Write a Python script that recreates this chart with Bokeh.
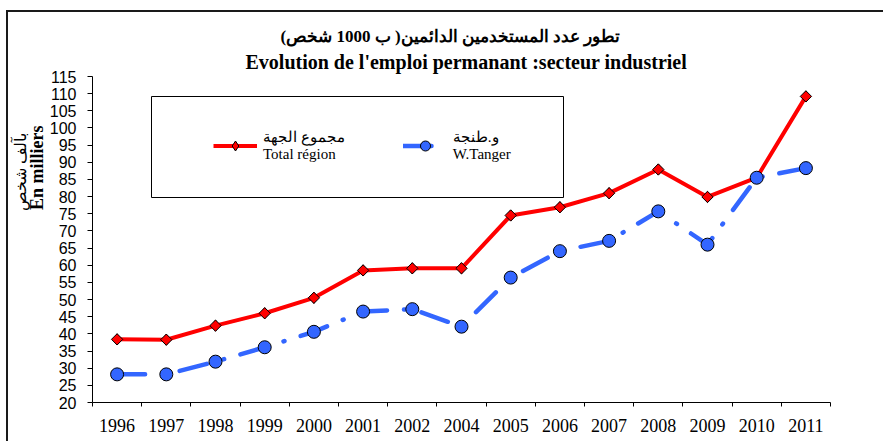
from bokeh.plotting import figure
from bokeh.models import (Range1d, FixedTicker, Legend, LegendItem, Title,
                          BoxAnnotation)
from bokeh.embed import file_html
from bokeh.resources import INLINE

# ---- data -------------------------------------------------------------
years = ["1996", "1997", "1998", "1999", "2000", "2001", "2002", "2004",
         "2005", "2006", "2007", "2008", "2009", "2010", "2011"]
total_region = [38.4, 38.3, 42.4, 46.0, 50.5, 58.5, 59.1, 59.1,
                74.5, 76.9, 81.0, 87.9, 79.9, 85.5, 109.2]
w_tanger = [28.2, 28.2, 31.9, 36.1, 40.6, 46.5, 47.2, 42.1,
            56.4, 64.1, 67.1, 75.7, 66.0, 85.5, 88.3]
y_ticks = list(range(20, 116, 5))

title_ar = "تطور عدد المستخدمين الدائمين( ب 1000 شخص)"
title_fr = "Evolution de l'emploi permanant :secteur industriel"
ylabel_ar = "بآلف شخص"
ylabel_fr = "En milliers"
label_total = "مجموع الجهة\nTotal région"
label_tanger = "و.طنجة\nW.Tanger"

xs = list(range(len(years)))

# ---- figure -----------------------------------------------------------
frame_css = {
    "background-image": "linear-gradient(#1a1a1a,#1a1a1a), linear-gradient(#1a1a1a,#1a1a1a)",
    "background-size": "2px 100%, 100% 2px",
    "background-position": "6px 10px, 6px 10px",
    "background-repeat": "no-repeat",
}
p = figure(width=883, height=441, title=None,
           x_range=Range1d(-0.5, len(years) - 0.5), y_range=Range1d(20, 115),
           output_backend="svg", toolbar_location=None,
           min_border_left=92, min_border_right=53,
           min_border_top=76, min_border_bottom=39,
           styles=frame_css)
p.background_fill_color = None
p.border_fill_color = None
p.outline_line_color = None
p.grid.visible = False

# titles
t_fr = Title(text=title_fr, align="left", offset=153, text_font="Liberation Serif",
             text_font_size="20px", text_font_style="bold", text_color="black",
             standoff=7)
t_ar = Title(text=title_ar, align="left", offset=188, text_font="Liberation Serif",
             text_font_size="17px", text_font_style="bold", text_color="black",
             standoff=0)
p.add_layout(t_fr, "above")
p.add_layout(t_ar, "above")

# axes
xa = p.xaxis[0]
xa.ticker = FixedTicker(ticks=xs, minor_ticks=[i - 0.5 for i in range(len(years) + 1)])
xa.major_label_overrides = {i: y for i, y in enumerate(years)}
xa.major_tick_out = 0
xa.major_tick_in = 0
xa.minor_tick_out = 4
xa.minor_tick_in = 0
xa.minor_tick_line_color = "black"
xa.axis_line_color = "black"
xa.major_label_standoff = 12
xa.major_label_text_font = "Liberation Serif"
xa.major_label_text_font_size = "18px"
xa.major_label_text_color = "black"

ya = p.yaxis[0]
ya.ticker = FixedTicker(ticks=y_ticks)
ya.major_tick_out = 5
ya.major_tick_in = 0
ya.minor_tick_out = 0
ya.minor_tick_in = 0
ya.axis_line_color = "black"
ya.major_tick_line_color = "black"
ya.major_label_standoff = 11
ya.major_label_text_font = "Liberation Sans"
ya.major_label_text_font_size = "16px"
ya.major_label_text_color = "black"

# y axis titles (rotated, two tight lines, placed near the top of the axis)
yt_fr = Title(text=ylabel_fr, align="right", offset=49, text_font="Liberation Serif",
              text_font_size="18px", text_font_style="bold", text_color="black",
              standoff=0)
yt_ar = Title(text=ylabel_ar, align="right", offset=56, text_font="Liberation Serif",
              text_font_size="16px", text_font_style="normal", text_color="black",
              standoff=-8)
p.add_layout(yt_fr, "left")
p.add_layout(yt_ar, "left")

# series
r_line = p.line(xs, total_region, line_color="#ff0000", line_width=4)
r_dia = p.scatter(xs, total_region, marker="diamond", size=11,
                  fill_color="#ff0000", line_color="black", line_width=1)
r_pts = p.scatter(xs, total_region, marker="square", angle=0.7853981634, size=8,
                  fill_color="#ff0000", line_color="black", line_width=1)
b_line = p.line(xs, w_tanger, line_color="#3366ff", line_width=4.5,
                line_dash="28 17 1 17", line_cap="round")
b_pts = p.scatter(xs, w_tanger, marker="circle", size=13,
                  fill_color="#3366ff", line_color="black", line_width=1)

# legend box + legend
legend_box = BoxAnnotation(left=151, right=563, top=96, bottom=197,
                           left_units="canvas", right_units="canvas",
                           top_units="canvas", bottom_units="canvas",
                           fill_color="white", fill_alpha=1,
                           line_color="black", line_alpha=1, line_width=1)
p.add_layout(legend_box)

legend = Legend(items=[LegendItem(label=label_total, renderers=[r_line, r_dia]),
                       LegendItem(label=label_tanger, renderers=[b_line, b_pts])],
                orientation="horizontal", location=(121, 239), padding=0,
                spacing=58, glyph_width=44, glyph_height=25, label_standoff=6,
                label_width=75, border_line_alpha=0, background_fill_alpha=0,
                label_text_font="Liberation Serif", label_text_font_size="15px",
                label_text_color="black", margin=0)
p.add_layout(legend, "center")

open("out.html", "w").write(file_html(p, INLINE))
